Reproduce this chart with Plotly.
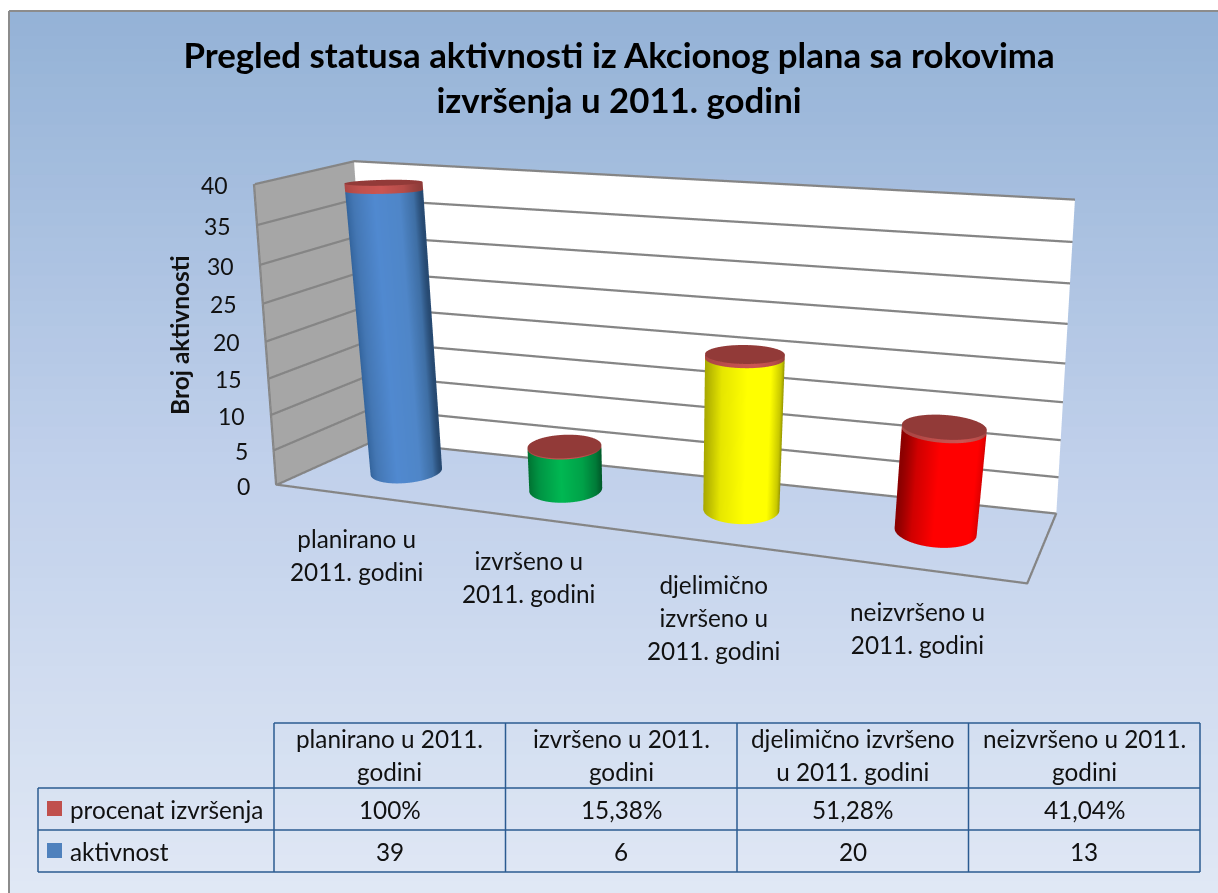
import numpy as np
import plotly.graph_objects as go

# ---------- data ----------
title_lines = ["Pregled statusa aktivnosti iz Akcionog plana sa rokovima", "izvršenja u 2011. godini"]
y_title = "Broj aktivnosti"
y_ticks = [0, 5, 10, 15, 20, 25, 30, 35, 40]
axis_labels = [["planirano u", "2011. godini"], ["izvršeno u", "2011. godini"],
               ["djelimično", "izvršeno u", "2011. godini"], ["neizvršeno u", "2011. godini"]]
table_headers = [["planirano u 2011.", "godini"], ["izvršeno u 2011.", "godini"],
                 ["djelimično izvršeno", "u 2011. godini"], ["neizvršeno u 2011.", "godini"]]
series_names = ["procenat izvršenja", "aktivnost"]
aktivnost = [39, 6, 20, 13]
procenat = [1.0, 0.1538, 0.5128, 0.4104]
procenat_labels = ["100%", "15,38%", "51,28%", "41,04%"]

# ---------- styling ----------
W, H = 1218, 893
FONT = "Lato"
TXT = "#111111"
GRID = "#858585"
EYE = np.array([0.8617, -2.5923, 0.6329])
CENTER = np.array([0.0386, 0.0, -0.2554])
UP = np.array([-0.0135, 0.0, 1.0])
ASPECT = np.array([2.0, 0.47, 0.8173])
XR, YR, ZR = (-0.1, 4.1), (-0.005, 1.005), (-3.0, 43.0)
R_WORLD = 0.1
rx = R_WORLD / ASPECT[0] * 4
ry = 0.105 / ASPECT[1]
Y_MID = 0.5

# wall corners nudged to compensate for the fixed 45-degree field of view of the 3D camera
C_A = np.array([0.04, 0.0, 40.4])
C_B = np.array([-0.043, 0.0, 0.5])
C_C = np.array([-0.02, 1.0, -0.25])
C_D = np.array([0.02, 1.0, 41.9])
C_E = np.array([4.0, 1.0, 39.2])
C_F = np.array([4.087, 1.0, -0.25])
C_G = np.array([3.94, 0.0, -0.3])

side_scales = [
    [[0, "#2f5f96"], [.2, "#4477b4"], [.5, "#5089d0"], [.8, "#4f86c8"], [.94, "#3f6fa5"], [1, "#274a72"]],
    [[0, "#006e30"], [.2, "#009544"], [.5, "#00b852"], [.78, "#00a148"], [.94, "#007a38"], [1, "#005c2a"]],
    [[0, "#a8a800"], [.2, "#e6e600"], [.5, "#ffff00"], [.8, "#ffff00"], [.94, "#c8c800"], [1, "#8f8f00"]],
    [[0, "#8c0000"], [.12, "#d00000"], [.35, "#ff0000"], [.82, "#ff0000"], [.94, "#e00000"], [1, "#b80000"]],
]
slab_scale = [[0, "#a84543"], [.3, "#c0504d"], [.6, "#cb5552"], [.85, "#b54c49"], [1, "#8f3c3a"]]
CAP = "#923a38"

FLAT = dict(ambient=1, diffuse=0, specular=0, roughness=1, fresnel=0)
d = (CENTER - EYE)[:2]
right = np.array([d[1], -d[0]]) / np.linalg.norm(d)
theta = np.linspace(0, 2 * np.pi, 97)


def side(i, z0, z1, scale):
    cx = i + 0.5
    x = np.tile(cx + rx * np.cos(theta), (2, 1))
    y = np.tile(Y_MID + ry * np.sin(theta), (2, 1))
    z = np.vstack([np.full_like(theta, z0), np.full_like(theta, z1)])
    t = (np.cos(theta) * right[0] + np.sin(theta) * right[1] + 1) / 2
    return go.Surface(x=x, y=y, z=z, surfacecolor=np.tile(t, (2, 1)), colorscale=scale, cmin=0, cmax=1,
                      showscale=False, lighting=FLAT, hoverinfo="skip")


def cap(i, z0, color):
    cx = i + 0.5
    r = np.array([0.0, 1.0])
    x = cx + rx * np.outer(r, np.cos(theta))
    y = Y_MID + ry * np.outer(r, np.sin(theta))
    z = np.full_like(x, z0)
    return go.Surface(x=x, y=y, z=z, surfacecolor=np.zeros_like(x), colorscale=[[0, color], [1, color]],
                      showscale=False, lighting=FLAT, hoverinfo="skip")


def wall(p00, p01, p10, p11, color):
    g = np.array([[p00, p01], [p10, p11]], dtype=float)
    return go.Surface(x=g[:, :, 0], y=g[:, :, 1], z=g[:, :, 2], surfacecolor=np.zeros((2, 2)),
                      colorscale=[[0, color], [1, color]], showscale=False, lighting=FLAT, hoverinfo="skip")


def line(points, width=4.5):
    a = np.array(points, dtype=float)
    return go.Scatter3d(x=a[:, 0], y=a[:, 1], z=a[:, 2], mode="lines", line=dict(color=GRID, width=width),
                        hoverinfo="skip")


n = len(aktivnost)
zmax = max(y_ticks)


def edge(bottom, top, tick):
    return bottom + (top - bottom) * tick / zmax


traces = [
    wall(C_B, C_C, C_A, C_D, "#A6A6A6"),
    wall(C_C, C_F, C_D, C_E, "#FFFFFF"),
]
NX = np.array([0.006, 0, 0])
NY = np.array([0, -0.006, 0])
for tk in y_ticks:
    traces.append(line([edge(C_B, C_A, tk) + NX, edge(C_C, C_D, tk) + NX + NY, edge(C_F, C_E, tk) + NY]))
traces.append(line([C_A, C_B, C_G, C_F]))
for i in range(n):
    top = aktivnost[i]
    traces.append(side(i, 0, top, side_scales[i]))
    traces.append(side(i, top, top + procenat[i], slab_scale))
    traces.append(cap(i, top + procenat[i], CAP))

fig = go.Figure(traces)

# ---------- background gradient and frame ----------
shapes = []
BX, BY = 9, 11
stops = [(0.0, (149, 179, 215)), (0.5, (192, 208, 235)), (1.0, (224, 232, 245))]
NB = 70
for b in range(NB):
    f = b / (NB - 1)
    col = [np.interp(f, [s[0] for s in stops], [s[1][k] for s in stops]) for k in range(3)]
    y0 = BY + (H - BY) * b / NB
    y1 = BY + (H - BY) * (b + 1) / NB + 1
    shapes.append(dict(type="rect", xref="paper", yref="paper", layer="below", x0=BX / W, x1=1,
                       y0=1 - y0 / H, y1=max(0, 1 - y1 / H), line=dict(width=0),
                       fillcolor="rgb(%d,%d,%d)" % tuple(col)))


def hline(x0, x1, y, color, width):
    return dict(type="line", xref="paper", yref="paper", x0=x0 / W, x1=x1 / W, y0=1 - y / H, y1=1 - y / H,
                line=dict(color=color, width=width))


def vline(x, y0, y1, color, width):
    return dict(type="line", xref="paper", yref="paper", x0=x / W, x1=x / W, y0=1 - y0 / H, y1=1 - y1 / H,
                line=dict(color=color, width=width))


shapes.append(hline(BX, W, BY, "#8C8C8C", 2))
shapes.append(vline(BX, BY, H, "#8C8C8C", 2))

# ---------- table ----------
TC = "#2B5B91"
COLS = [274, 505.5, 737, 968.5, 1200]
T_TOP, R1, R2, R3, T_LEFT = 723, 788, 830, 872, 38
shapes.append(hline(COLS[0], COLS[-1], T_TOP, TC, 1.5))
for yy in (R1, R2, R3):
    shapes.append(hline(T_LEFT, COLS[-1], yy, TC, 1.5))
shapes.append(vline(T_LEFT, R1, R3, TC, 1.5))
for xx in COLS:
    shapes.append(vline(xx, T_TOP, R3, TC, 1.5))
for yc, col in ((808.5, "#C0504D"), (850.5, "#4F81BD")):
    shapes.append(dict(type="rect", xref="paper", yref="paper", x0=47 / W, x1=62 / W, y0=1 - (yc + 7.5) / H,
                       y1=1 - (yc - 7.5) / H, fillcolor=col, line=dict(width=0)))

annotations = []


def text(x, y, lines, size, lh=None, anchor="center", bold=False, rot=0):
    base = (lh / 1.3) if lh else size
    body = "<br>".join('<span style="font-size:%gpx">%s</span>' % (size, ("<b>%s</b>" % s) if bold else s)
                       for s in lines)
    annotations.append(dict(xref="paper", yref="paper", x=x / W, y=1 - y / H, text=body, showarrow=False,
                            xanchor=anchor, yanchor="middle", align=anchor if anchor != "right" else "right",
                            textangle=rot, font=dict(family=FONT, size=base, color=TXT)))


TS = 24.3
LH = 33
cat_pos = [(357, 555), (528, 577), (714, 617), (917, 628)]
for (cx_, cy_), ls in zip(cat_pos, axis_labels):
    text(cx_, cy_, ls, TS, LH)
for j, hdr in enumerate(table_headers):
    xc = (COLS[j] + COLS[j + 1]) / 2
    text(xc, 755, hdr, TS, LH)
    text(xc, 809, [procenat_labels[j]], TS)
    text(xc, 851, [str(aktivnost[j])], TS)
text(68, 809, [series_names[0]], TS, anchor="left")
text(68, 851, [series_names[1]], TS, anchor="left")
text(179, 335, [y_title], 24.5, anchor="center", bold=True, rot=-90)

scene_ann = []
for tk in y_ticks:
    p = edge(C_B, C_A, tk)
    scene_ann.append(dict(x=p[0], y=p[1], z=p[2], text=str(tk), showarrow=False, xanchor="right", yanchor="middle",
                          xshift=-24, yshift=-1, font=dict(family=FONT, size=23, color=TXT)))

ax = dict(visible=False, showspikes=False)
title_html = "<br>".join("<b>%s</b>" % s for s in title_lines)
fig.update_layout(
    width=W, height=H, autosize=False, showlegend=False,
    margin=dict(l=0, r=0, t=0, b=0), paper_bgcolor="#FFFFFF",
    title=dict(text=title_html, x=619 / W, xanchor="center", xref="paper", y=1 - 67.5 / H, yanchor="middle",
               yref="paper", font=dict(family=FONT, size=34.8, color="#000000")),
    shapes=shapes, annotations=annotations,
    scene=dict(
        domain=dict(x=[112 / W, 1], y=[0, 1]),
        xaxis=dict(range=list(XR), **ax),
        yaxis=dict(range=list(YR), **ax),
        zaxis=dict(range=list(ZR), **ax),
        aspectmode="manual",
        aspectratio=dict(x=ASPECT[0] * (XR[1] - XR[0]) / n,
                         y=ASPECT[1] * (YR[1] - YR[0]),
                         z=ASPECT[2] * (ZR[1] - ZR[0]) / zmax),
        camera=dict(eye=dict(x=EYE[0], y=EYE[1], z=EYE[2]),
                    center=dict(x=CENTER[0], y=CENTER[1], z=CENTER[2]),
                    up=dict(x=UP[0], y=UP[1], z=UP[2]),
                    projection=dict(type="perspective")),
        bgcolor="rgba(0,0,0,0)",
        annotations=scene_ann,
    ),
)
fig.write_html("out.html", config=dict(displayModeBar=False, responsive=False),
               post_script="document.body.style.margin='0';")
